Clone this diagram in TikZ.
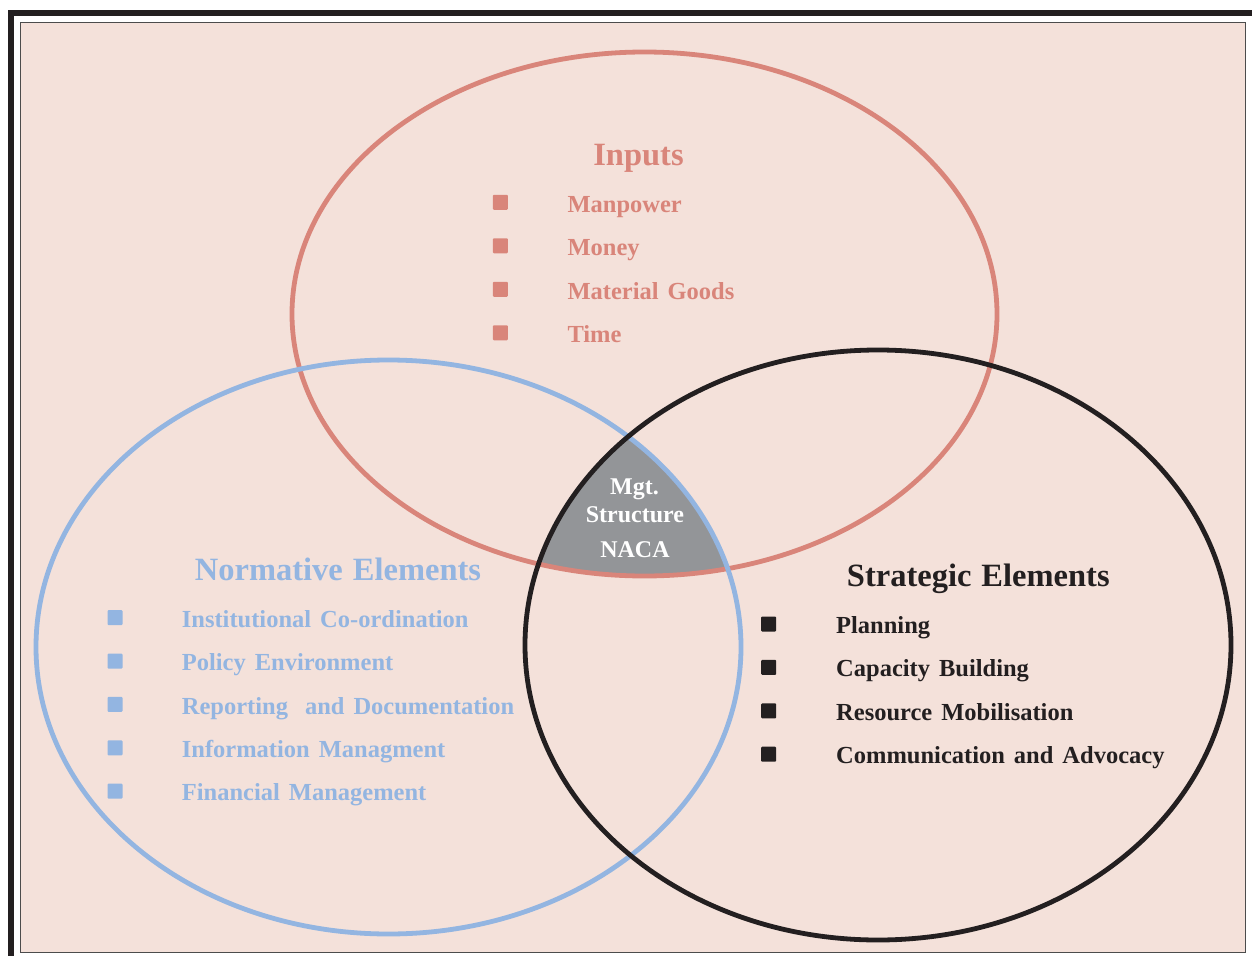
\documentclass[tikz,border=0pt]{standalone}
\usepackage{fontspec}
\setmainfont{Liberation Serif}
\definecolor{bgpink}{HTML}{F4E1DA}
\definecolor{inred}{HTML}{D9857A}
\definecolor{normblue}{HTML}{93B5E1}
\definecolor{stratblack}{HTML}{231F20}
\definecolor{midgrey}{HTML}{939598}
\newcommand{\widespaceA}{\spaceskip 10bp\relax}
\newcommand{\widespaceB}{\spaceskip 9bp\relax}
\tikzset{
  ring/.style={line width=4.8bp},
  title/.style={font=\fontsize{32.5bp}{36bp}\selectfont\bfseries\widespaceA, anchor=base, inner sep=0pt},
  item/.style={font=\fontsize{24.5bp}{28bp}\selectfont\bfseries\widespaceB, anchor=base west, inner sep=0pt},
  bullet/.style={rounded corners=1bp, minimum size=15bp, inner sep=0pt, anchor=south west},
  core/.style={font=\fontsize{24bp}{28bp}\selectfont\bfseries, text=white, anchor=base, inner sep=0pt}
}
\begin{document}
\begin{tikzpicture}[x=1bp,y=-1bp]
\useasboundingbox (0,0) rectangle (1252,956);
\fill[white] (0,0) rectangle (1252,956);
% frames
\begin{scope}
\clip (0,0) rectangle (1252,956);
\draw[stratblack, line width=6bp] (11,13) rectangle (1275,990);
\end{scope}
\draw[fill=bgpink, draw=black!70, line width=1bp] (20,22) rectangle (1245,952);
% grey core
\begin{scope}
\clip (644.5,314) ellipse [x radius=352.5, y radius=262];
\clip (388.5,647) ellipse [x radius=352.5, y radius=287];
\fill[midgrey] (878,645) ellipse [x radius=353, y radius=295];
\end{scope}
% circles
\draw[ring, inred] (644.5,314) ellipse [x radius=352.5, y radius=262];
\draw[ring, normblue] (388.5,647) ellipse [x radius=352.5, y radius=287];
\draw[ring, stratblack] (878,645) ellipse [x radius=353, y radius=295];
% Inputs
\node[title, text=inred] (tin) at (638.5,165) {Inputs};
\node[bullet, fill=inred] (bi1) at (492.7,210) {};
\node[bullet, fill=inred] (bi2) at (492.7,253.5) {};
\node[bullet, fill=inred] (bi3) at (492.7,297) {};
\node[bullet, fill=inred] (bi4) at (492.7,340.5) {};
\node[item, text=inred] (i1) at (567.3,212) {Manpower};
\node[item, text=inred] (i2) at (567.3,255.5) {Money};
\node[item, text=inred] (i3) at (567.3,299) {Material Goods};
\node[item, text=inred] (i4) at (567.3,342.5) {Time};
% Normative
\node[title, text=normblue] (tno) at (338,580.7) {Normative Elements};
\node[bullet, fill=normblue] (bn1) at (107.3,625.3) {};
\node[bullet, fill=normblue] (bn2) at (107.3,668.7) {};
\node[bullet, fill=normblue] (bn3) at (107.3,712.1) {};
\node[bullet, fill=normblue] (bn4) at (107.3,755.5) {};
\node[bullet, fill=normblue] (bn5) at (107.3,798.9) {};
\node[item, text=normblue] (n1) at (181.7,627) {Institutional Co-ordination};
\node[item, text=normblue] (n2) at (181.7,670.5) {Policy Environment};
\node[item, text=normblue] (n3) at (181.7,714) {Reporting\hspace{8bp} and Documentation};
\node[item, text=normblue] (n4) at (181.7,757.3) {Information Managment};
\node[item, text=normblue] (n5) at (181.7,800.7) {Financial Management};
% Strategic
\node[title, text=stratblack] (tst) at (978.3,586.7) {Strategic Elements};
\node[bullet, fill=stratblack] (bs1) at (761,631.7) {};
\node[bullet, fill=stratblack] (bs2) at (761,675.1) {};
\node[bullet, fill=stratblack] (bs3) at (761,718.5) {};
\node[bullet, fill=stratblack] (bs4) at (761,761.9) {};
\node[item, text=stratblack] (s1) at (836,633.3) {Planning};
\node[item, text=stratblack] (s2) at (836,676.7) {Capacity Building};
\node[item, text=stratblack] (s3) at (836,720.1) {Resource Mobilisation};
\node[item, text=stratblack] (s4) at (836,763.5) {Communication and Advocacy};
% core
\node[core] (c1) at (634.5,494) {Mgt.};
\node[core] (c2) at (635,522.3) {Structure};
\node[core] (c3) at (635,557.3) {NACA};
\end{tikzpicture}
\end{document}
